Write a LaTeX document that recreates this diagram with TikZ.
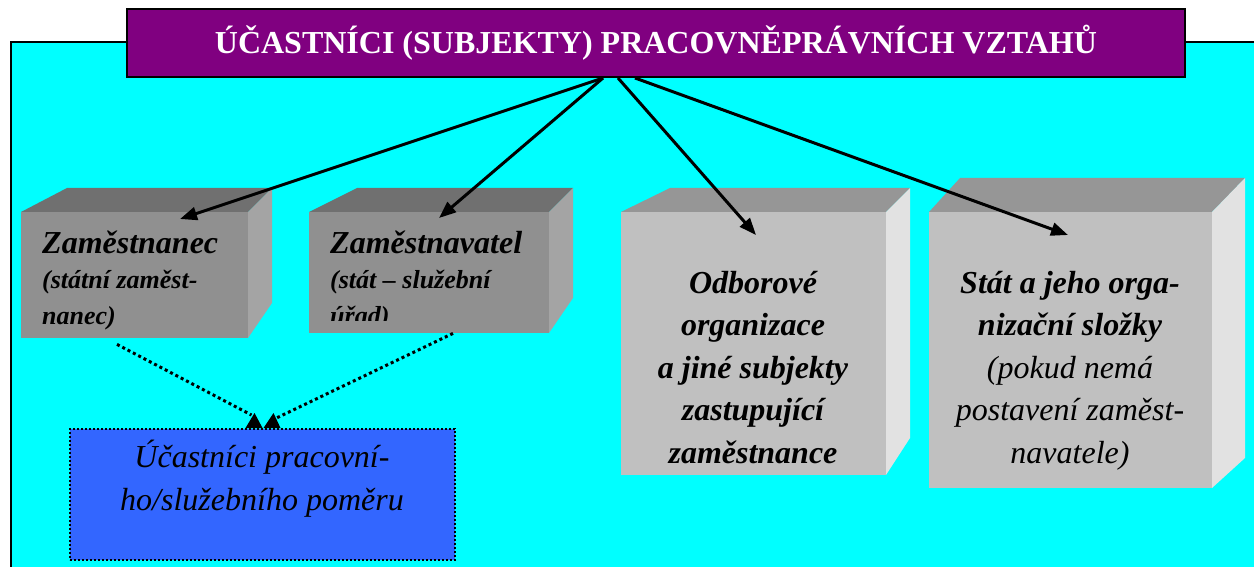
\documentclass[tikz,border=0pt]{standalone}
\usepackage{fontspec}
\setmainfont{Liberation Serif}
\usepackage{xcolor}
\usetikzlibrary{arrows.meta}

\definecolor{tyrkys}{HTML}{00FFFF}
\definecolor{fialova}{HTML}{800080}
\definecolor{modra}{HTML}{3366FF}
\definecolor{tmCelo}{HTML}{909090}
\definecolor{tmHorni}{HTML}{707070}
\definecolor{tmBok}{HTML}{A4A4A4}
\definecolor{svCelo}{HTML}{C0C0C0}
\definecolor{svHorni}{HTML}{969696}
\definecolor{svBok}{HTML}{E2E2E2}

\tikzset{
	titulek/.style={draw=black, line width=2pt, fill=fialova, text=white,
		minimum width=1058, minimum height=68, inner sep=0pt,
		font=\bfseries\fontsize{32}{36}\selectfont},
	celo/.style={anchor=north west, inner sep=0pt},
	sipka/.style={line width=3pt, -{Triangle[length=17pt, width=13pt]}},
	tecky/.style={line width=3pt, dash pattern=on 3pt off 3pt},
	popis/.style={inner sep=0pt, font=\bfseries\itshape\fontsize{26}{35.5}\selectfont},
	velky/.style={inner sep=0pt, align=center, font=\bfseries\itshape\fontsize{32}{42.5}\selectfont}
}

\begin{document}
\begin{tikzpicture}[x=1pt, y=-1pt]
	\useasboundingbox (0,0) rectangle (1254,567);
	\clip (0,0) rectangle (1254,567);
	% Background and frame:
	\fill[tyrkys] (11,42) rectangle (1270,590);
	\draw[line width=2.5pt] (11,590) -- (11,42) -- (1270,42);
	\node[titulek] (title) at (656,43) {ÚČASTNÍCI (SUBJEKTY) PRACOVNĚPRÁVNÍCH VZTAHŮ};

	% Boxes (front, top, side):
	\fill[tmHorni] (21,212) -- (67,188) -- (272,188) -- (248,212) -- cycle;
	\fill[tmBok] (248,212) -- (272,188) -- (272,303) -- (248,338) -- cycle;
	\node[celo, fill=tmCelo, minimum width=227, minimum height=126] (zam) at (21,212){};
	\fill[tmHorni] (309,212) -- (357,188) -- (573,188) -- (549,212) -- cycle;
	\fill[tmBok] (549,212) -- (573,188) -- (573,298) -- (549,333) -- cycle;
	\node[celo, fill=tmCelo, minimum width=240, minimum height=121] (zamtel) at (309,212){};
	\fill[svHorni] (621,212) -- (670,188) -- (910,188) -- (886,212) -- cycle;
	\fill[svBok] (886,212) -- (910,188) -- (910,438) -- (886,475) -- cycle;
	\node[celo, fill=svCelo, minimum width=265, minimum height=263] (odbory) at (621,212){};
	\fill[svHorni] (929,212) -- (960,178) -- (1245,178) -- (1212,212) -- cycle;
	\fill[svBok] (1212,212) -- (1245,178) -- (1245,458) -- (1212,488) -- cycle;
	\node[celo, fill=svCelo, minimum width=283, minimum height=276] (stat) at (929,212){};
	\node[celo, fill=modra, draw=black, line width=2pt, dotted, minimum width=385, minimum height=131] (ucast) at (69,428){};

	% Texts (base = last line):
	\node[popis, anchor=base west, align=left] (zamTxt) at (42,324)
		{{\fontsize{32}{35.5}\selectfont Zaměstnanec}\\(státní zaměst-\\nanec)};
	\begin{scope}
		\clip (309,212) rectangle (549,320);
		\node[popis, anchor=base west, align=left] (zamtelTxt) at (330,324)
			{{\fontsize{32}{35.5}\selectfont Zaměstnavatel}\\(stát – služební\\úřad)};
	\end{scope}
	\node[velky, anchor=base] (odboryTxt) at (753,463)
		{Odborové\\organizace\\a jiné subjekty\\zastupující\\zaměstnance};
	\node[velky, anchor=base] (statTxt) at (1070,463)
		{Stát a jeho orga-\\nizační složky\\\mdseries (pokud nemá\\\mdseries postavení zaměst-\\\mdseries navatele)};
	\node[velky, anchor=base, font=\itshape\fontsize{32}{43}\selectfont] (ucastTxt) at (262,510)
		{Účastníci pracovní-\\ho/služebního poměru};

	% Arrows:
	\draw[sipka] ([xshift=-53pt]title.south) -- ([xshift=159pt, yshift=-7pt]zam.north west);
	\draw[sipka] ([xshift=-53pt]title.south) -- ([xshift=130pt, yshift=-6pt]zamtel.north west);
	\draw[sipka] ([xshift=-38pt]title.south) -- ([xshift=135pt, yshift=-23pt]odbory.north west);
	\draw[sipka] ([xshift=-21pt]title.south) -- ([xshift=139pt, yshift=-23pt]stat.north west);
	\draw[tecky] ([xshift=96pt, yshift=-6pt]zam.south west) -- ([xshift=-11pt, yshift=13pt]ucast.north);
	\draw[tecky] ([xshift=144pt]zamtel.south west) -- ([xshift=14pt, yshift=10pt]ucast.north);
	\fill ([xshift=-17pt]ucast.north) -- ([xshift=-8pt, yshift=15pt]ucast.north) -- (ucast.north) -- cycle;
	\fill ([xshift=1pt]ucast.north) -- ([xshift=11pt, yshift=15pt]ucast.north) -- ([xshift=18pt]ucast.north) -- cycle;
\end{tikzpicture}
\end{document}
